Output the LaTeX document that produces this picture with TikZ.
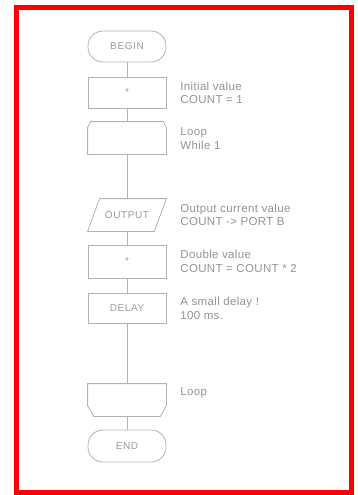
\documentclass[tikz,border=0pt]{standalone}
\usepackage{fontspec}
\setmainfont{Liberation Sans}
\newfontfamily\boxfont[LetterSpace=6]{Liberation Sans}
\newfontfamily\notefont[LetterSpace=3]{Liberation Sans}

\begin{document}
\begin{tikzpicture}[x=1pt,y=-1pt,line width=0.8pt,
  box/.style={draw=gray!60,text=gray!80,minimum width=78,minimum height=31,
    inner sep=0pt,font=\boxfont\fontsize{10}{11}\selectfont},
  term/.style={box,rounded corners=15pt},
  shape only/.style={box,draw=none,minimum height=32},
  outline/.style={draw=gray!60},
  note/.style={anchor=west,align=left,text=gray!85,inner sep=0pt,
    font=\notefont\fontsize{11.5}{13.5}\selectfont}]
\def\cx{127}
\def\lx{180}
\useasboundingbox (0,0) rectangle (357,495);
% ---- frame ----
\draw[red,line width=5pt] (16.5,7.5) rectangle (351.5,492.5);
% ---- chart ----
\node[term] (begin) at (\cx,46.5) {BEGIN};
\node[box] (set1) at (\cx,92.5) {*};
\node[shape only] (loopa) at (\cx,138) {};
\node[shape only] (output) at (\cx,215) {OUTPUT};
\node[box,minimum height=33] (set2) at (\cx,261.5) {*};
\node[box,minimum height=30] (delay) at (\cx,308) {DELAY};
\node[shape only] (loopb) at (\cx,400) {};
\node[term,minimum height=32] (end) at (\cx,446) {END};
% loop start, top corners cut
\draw[outline] (loopa.south west) -- ([yshift=-6pt]loopa.north west)
  -- ([xshift=3pt]loopa.north west) -- ([xshift=-3pt]loopa.north east)
  -- ([yshift=-6pt]loopa.north east) -- (loopa.south east) -- cycle;
% output, slanted
\draw[outline] (output.south west) -- ([xshift=12pt]output.north west)
  -- (output.north east) -- ([xshift=-12pt]output.south east) -- cycle;
% loop end, bottom corners cut
\draw[outline] (loopb.north west) -- ([yshift=11pt]loopb.south west)
  -- ([xshift=6pt]loopb.south west) -- ([xshift=-6pt]loopb.south east)
  -- ([yshift=11pt]loopb.south east) -- (loopb.north east) -- cycle;
\foreach \a/\b in {begin/set1,set1/loopa,loopa/output,output/set2,set2/delay,delay/loopb,loopb/end}{
  \draw[gray!60] (\a.south) -- (\b.north);}
% ---- notes ----
\node[note] (n1) at (\lx,93) {Initial value\\COUNT = 1};
\node[note] (n2) at (\lx,138.5) {Loop\\While 1};
\node[note] (n3) at (\lx,215) {Output current value\\COUNT -> PORT B};
\node[note] (n4) at (\lx,261.5) {Double value\\COUNT = COUNT * 2};
\node[note] (n5) at (\lx,308.5) {A small delay !\\100 ms.};
\node[note] (n6) at (\lx,393) {Loop};
\end{tikzpicture}
\end{document}
